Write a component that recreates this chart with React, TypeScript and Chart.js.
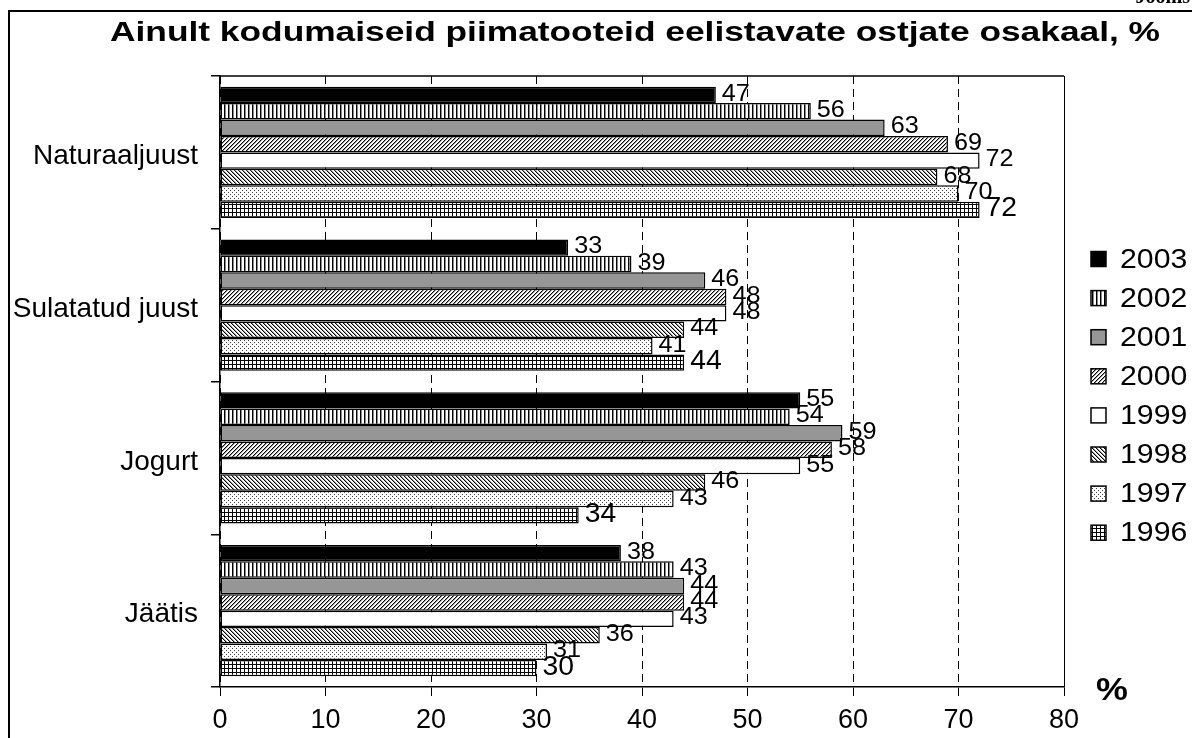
import React, { useEffect, useRef } from "react";
import { Chart, registerables } from "chart.js";

Chart.register(...registerables);

// ---- data ----
const categories = ["Naturaaljuust", "Sulatatud juust", "Jogurt", "Jäätis"];
const years = ["2003", "2002", "2001", "2000", "1999", "1998", "1997", "1996"];
const v2003 = [47, 33, 55, 38];
const v2002 = [56, 39, 54, 43];
const v2001 = [63, 46, 59, 44];
const v2000 = [69, 48, 58, 44];
const v1999 = [72, 48, 55, 43];
const v1998 = [68, 44, 46, 36];
const v1997 = [70, 41, 43, 31];
const v1996 = [72, 44, 34, 30];
const seriesValues = [v2003, v2002, v2001, v2000, v1999, v1998, v1997, v1996];
const xMin = 0;
const xMax = 80;
const xStep = 10;
const titleText = "Ainult kodumaiseid piimatooteid eelistavate ostjate osakaal, %";
const unitText = "%";
const cornerText = "Joonis";

// ---- styles ----
const fillKinds = ["black", "vstripe", "gray", "fwdiag", "white", "bkdiag", "dots", "grid"];
const FONT = "'Liberation Sans', Arial, Helvetica, sans-serif";

function makeFill(ctx: CanvasRenderingContext2D, kind: string): any {
  if (kind === "black") return "#000000";
  if (kind === "gray") return "#969696";
  if (kind === "white") return "#ffffff";
  const t = document.createElement("canvas");
  t.width = 4;
  t.height = 4;
  const g = t.getContext("2d")!;
  g.fillStyle = "#ffffff";
  g.fillRect(0, 0, 4, 4);
  const px = (x: number, y: number, c: string) => {
    g.fillStyle = c;
    g.fillRect(x, y, 1, 1);
  };
  for (let y = 0; y < 4; y++) {
    for (let x = 0; x < 4; x++) {
      if (kind === "vstripe") {
        if (x === 0) px(x, y, "#000");
        if (x === 1) px(x, y, "#888");
      } else if (kind === "fwdiag") {
        if ((x + y) % 4 === 0) px(x, y, "#000");
        if ((x + y) % 4 === 1) px(x, y, "#999");
      } else if (kind === "bkdiag") {
        if ((x - y + 8) % 4 === 0) px(x, y, "#000");
        if ((x - y + 8) % 4 === 1) px(x, y, "#999");
      } else if (kind === "dots") {
        if ((x === 0 && y === 0) || (x === 2 && y === 2)) px(x, y, "#444");
      } else if (kind === "grid") {
        if (x === 0 || y === 0) px(x, y, "#000");
      }
    }
  }
  return ctx.createPattern(t, "repeat");
}

// draw text horizontally stretched by sx, anchored at left x
function stretchedText(ctx: CanvasRenderingContext2D, text: string, x: number, y: number, sx: number) {
  ctx.save();
  ctx.translate(x, y);
  ctx.scale(sx, 1);
  ctx.textAlign = "left";
  ctx.fillText(text, 0, 0);
  ctx.restore();
}

const decorPlugin = {
  id: "decor",
  beforeDraw(chart: any) {
    const ctx = chart.ctx;
    ctx.save();
    ctx.fillStyle = "#ffffff";
    ctx.fillRect(0, 0, chart.width, chart.height);
    ctx.restore();
  },
  afterDatasetsDraw(chart: any) {
    const ctx = chart.ctx;
    const area = chart.chartArea;
    ctx.save();
    // plot top border
    ctx.strokeStyle = "#000";
    ctx.lineWidth = 1.5;
    ctx.beginPath();
    ctx.moveTo(area.left, area.top);
    ctx.lineTo(area.right, area.top);
    ctx.stroke();

    // value labels
    ctx.fillStyle = "#000";
    ctx.textBaseline = "middle";
    chart.data.datasets.forEach((ds: any, di: number) => {
      const meta = chart.getDatasetMeta(di);
      const last = di === chart.data.datasets.length - 1;
      ctx.font = `${last ? 27 : 24}px ${FONT}`;
      meta.data.forEach((el: any, i: number) => {
        stretchedText(ctx, String(ds.data[i]), el.x + 6, el.y - 1, 1.05);
      });
    });

    // legend
    const fills = chart.options.plugins.decor.fills;
    ctx.font = `28px ${FONT}`;
    const y0 = 259;
    const dy = 39.1;
    years.forEach((yr, i) => {
      const cy = y0 + i * dy;
      ctx.fillStyle = fills[i];
      ctx.fillRect(1091, cy - 7.5, 15, 15);
      ctx.strokeStyle = "#000";
      ctx.lineWidth = 1.5;
      ctx.strokeRect(1091, cy - 7.5, 15, 15);
      ctx.fillStyle = "#000";
      ctx.textBaseline = "middle";
      stretchedText(ctx, yr, 1120, cy + 1, 1.08);
    });

    // unit
    ctx.font = `bold 32px ${FONT}`;
    ctx.textBaseline = "middle";
    stretchedText(ctx, unitText, 1096, 691, 1.12);

    // title (stretched horizontally to fit)
    ctx.font = `bold 28px ${FONT}`;
    ctx.textBaseline = "alphabetic";
    const target = 1160 - 110;
    const natural = ctx.measureText(titleText).width;
    stretchedText(ctx, titleText, 110, 41, target / natural);

    // corner text (cut off at top)
    ctx.textAlign = "right";
    ctx.font = `bold 20px 'Liberation Serif', serif`;
    ctx.fillText(cornerText, 1190, 3);

    // frame
    ctx.strokeStyle = "#000";
    ctx.lineWidth = 2;
    ctx.beginPath();
    ctx.moveTo(9, 738);
    ctx.lineTo(9, 11);
    ctx.lineTo(1192, 11);
    ctx.stroke();
    ctx.restore();
  },
};

export default function App() {
  const ref = useRef<HTMLCanvasElement>(null);
  useEffect(() => {
    const canvas = ref.current!;
    const ctx = canvas.getContext("2d")!;
    const fills = fillKinds.map((k) => makeFill(ctx, k));
    const chart = new Chart(canvas, {
      type: "bar",
      data: {
        labels: categories,
        datasets: years.map((yr, i) => ({
          label: yr,
          data: seriesValues[i],
          backgroundColor: fills[i],
          borderColor: "#000",
          borderWidth: 1.5,
          borderSkipped: false,
          categoryPercentage: 0.86,
          barPercentage: 1.0,
        })),
      },
      options: {
        indexAxis: "y",
        animation: false,
        responsive: false,
        devicePixelRatio: 1,
        events: [],
        layout: { padding: { top: 76, right: 128, bottom: 0, left: 0 } },
        plugins: {
          legend: { display: false },
          title: { display: false },
          tooltip: { enabled: false },
          decor: { fills },
        } as any,
        scales: {
          x: {
            type: "linear",
            min: xMin,
            max: xMax,
            ticks: {
              stepSize: xStep,
              color: "#000",
              font: { size: 27, family: FONT },
              padding: 8,
            },
            grid: {
              color: "#000",
              lineWidth: 1,
              tickLength: 9,
              tickBorderDash: [],
              tickColor: "#000",
            },
            border: {
              display: true,
              color: "#000",
              width: 1.5,
              dash: (c: any) => (c.tick && c.tick.value === xMax ? [] : [8, 5]),
            },
            afterFit: (s: any) => {
              s.height = 51;
            },
          },
          y: {
            type: "category",
            offset: true,
            ticks: {
              color: "#000",
              font: { size: 28, family: FONT },
              padding: 13,
              labelOffset: 4,
            },
            grid: {
              offset: true,
              drawOnChartArea: false,
              tickLength: 9,
              color: "#000",
              lineWidth: 1.5,
            },
            border: { display: true, color: "#000", width: 1.5 },
            afterFit: (s: any) => {
              s.width = 220;
            },
          },
        },
      } as any,
      plugins: [decorPlugin],
    });
    return () => chart.destroy();
  }, []);
  return (
    <div
      style={{
        position: "fixed",
        left: 0,
        top: 0,
        width: 1192,
        height: 738,
        overflow: "hidden",
        background: "#fff",
      }}
    >
      <canvas ref={ref} width={1192} height={738} style={{ width: 1192, height: 738, display: "block" }} />
    </div>
  );
}
